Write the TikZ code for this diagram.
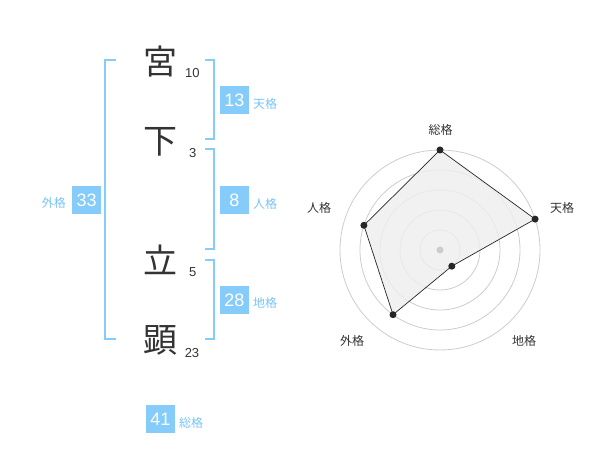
\documentclass[tikz,border=0pt]{standalone}
\usepackage{fontspec}
\setmainfont{Liberation Sans}
\newfontfamily\cjk{Noto Sans CJK JP}
\definecolor{bluebox}{RGB}{133,204,250}
\definecolor{bluetxt}{RGB}{120,196,246}
\definecolor{ink}{RGB}{51,51,51}
\definecolor{ring}{RGB}{204,204,204}
\definecolor{polyfill}{RGB}{238,238,238}
\tikzset{
  kanji/.style={inner sep=0pt, text=ink, font=\cjk\fontsize{34}{34}\selectfont},
  stroke/.style={inner sep=0pt, text=ink, font=\fontsize{13}{13}\selectfont},
  valbox/.style={fill=bluebox, text=white, minimum width=29pt, minimum height=28pt, inner sep=0pt, font=\fontsize{18}{18}\selectfont},
  vallabel/.style={inner sep=0pt, text=bluetxt, font=\cjk\fontsize{12}{12}\selectfont},
  bracket/.style={draw=bluebox, line width=2pt},
  axislabel/.style={inner sep=0pt, text=ink, font=\cjk\fontsize{12}{12}\selectfont},
  ringline/.style={draw=ring, line width=0.8pt},
  dot/.style={circle, fill=black!85, inner sep=0pt, minimum size=7pt}
}
\begin{document}
\begin{tikzpicture}[x=1pt,y=-1pt]
\useasboundingbox (0,0) rectangle (600,470);
% characters
\node[kanji] (k1) at (160,61.7) {宮};
\node[kanji] (k2) at (160,141.7) {下};
\node[kanji] (k3) at (160,260) {立};
\node[kanji] (k4) at (160,340) {顕};
\node[stroke] (s1) at (192.3,72.7) {10};
\node[stroke] (s2) at (192.7,153.3) {3};
\node[stroke] (s3) at (192.7,272.3) {5};
\node[stroke] (s4) at (192,352.7) {23};
% brackets
\draw[bracket] (116,60) -- (105,60) -- (105,339.3) -- (116,339.3);
\draw[bracket] (205,60) -- (214.3,60) -- (214.3,139.3) -- (205,139.3);
\draw[bracket] (205,149.3) -- (214.3,149.3) -- (214.3,249.3) -- (205,249.3);
\draw[bracket] (205,260) -- (214.3,260) -- (214.3,339.3) -- (205,339.3);
% values
\node[valbox] (ten) at (234.5,100) {13};
\node[vallabel, anchor=west] (tenl) at (253,104) {天格};
\node[valbox] (jin) at (234.5,200) {8};
\node[vallabel, anchor=west] (jinl) at (253,204) {人格};
\node[valbox] (chi) at (234.5,300) {28};
\node[vallabel, anchor=west] (chil) at (253,303) {地格};
\node[valbox] (gai) at (86.7,200) {33};
\node[vallabel, anchor=east] (gail) at (66,203.3) {外格};
\node[valbox] (sou) at (160.5,419) {41};
\node[vallabel, anchor=west] (soul) at (179,422.7) {総格};
% radar
\coordinate (c) at (440,250);
\foreach \r in {20,40,60,80,100} \draw[ringline] (c) circle (\r pt);
\coordinate (pS) at (440,150);
\coordinate (pT) at (535.1,219.1);
\coordinate (pC) at (451.8,266.2);
\coordinate (pG) at (393.0,314.7);
\coordinate (pJ) at (363.9,225.3);
\filldraw[fill=polyfill, fill opacity=0.85, draw=black!85, line width=0.7pt] (pS) -- (pT) -- (pC) -- (pG) -- (pJ) -- cycle;
\node[circle, fill=ring, inner sep=0pt, minimum size=7pt] (cd) at (c) {};
\foreach \p in {pS,pT,pC,pG,pJ} \node[dot] at (\p) {};
\node[axislabel] (aS) at (440.7,130) {総格};
\node[axislabel] (aT) at (562,208) {天格};
\node[axislabel] (aJ) at (319,208) {人格};
\node[axislabel] (aG) at (352,341) {外格};
\node[axislabel] (aC) at (524,341) {地格};
\end{tikzpicture}
\end{document}
